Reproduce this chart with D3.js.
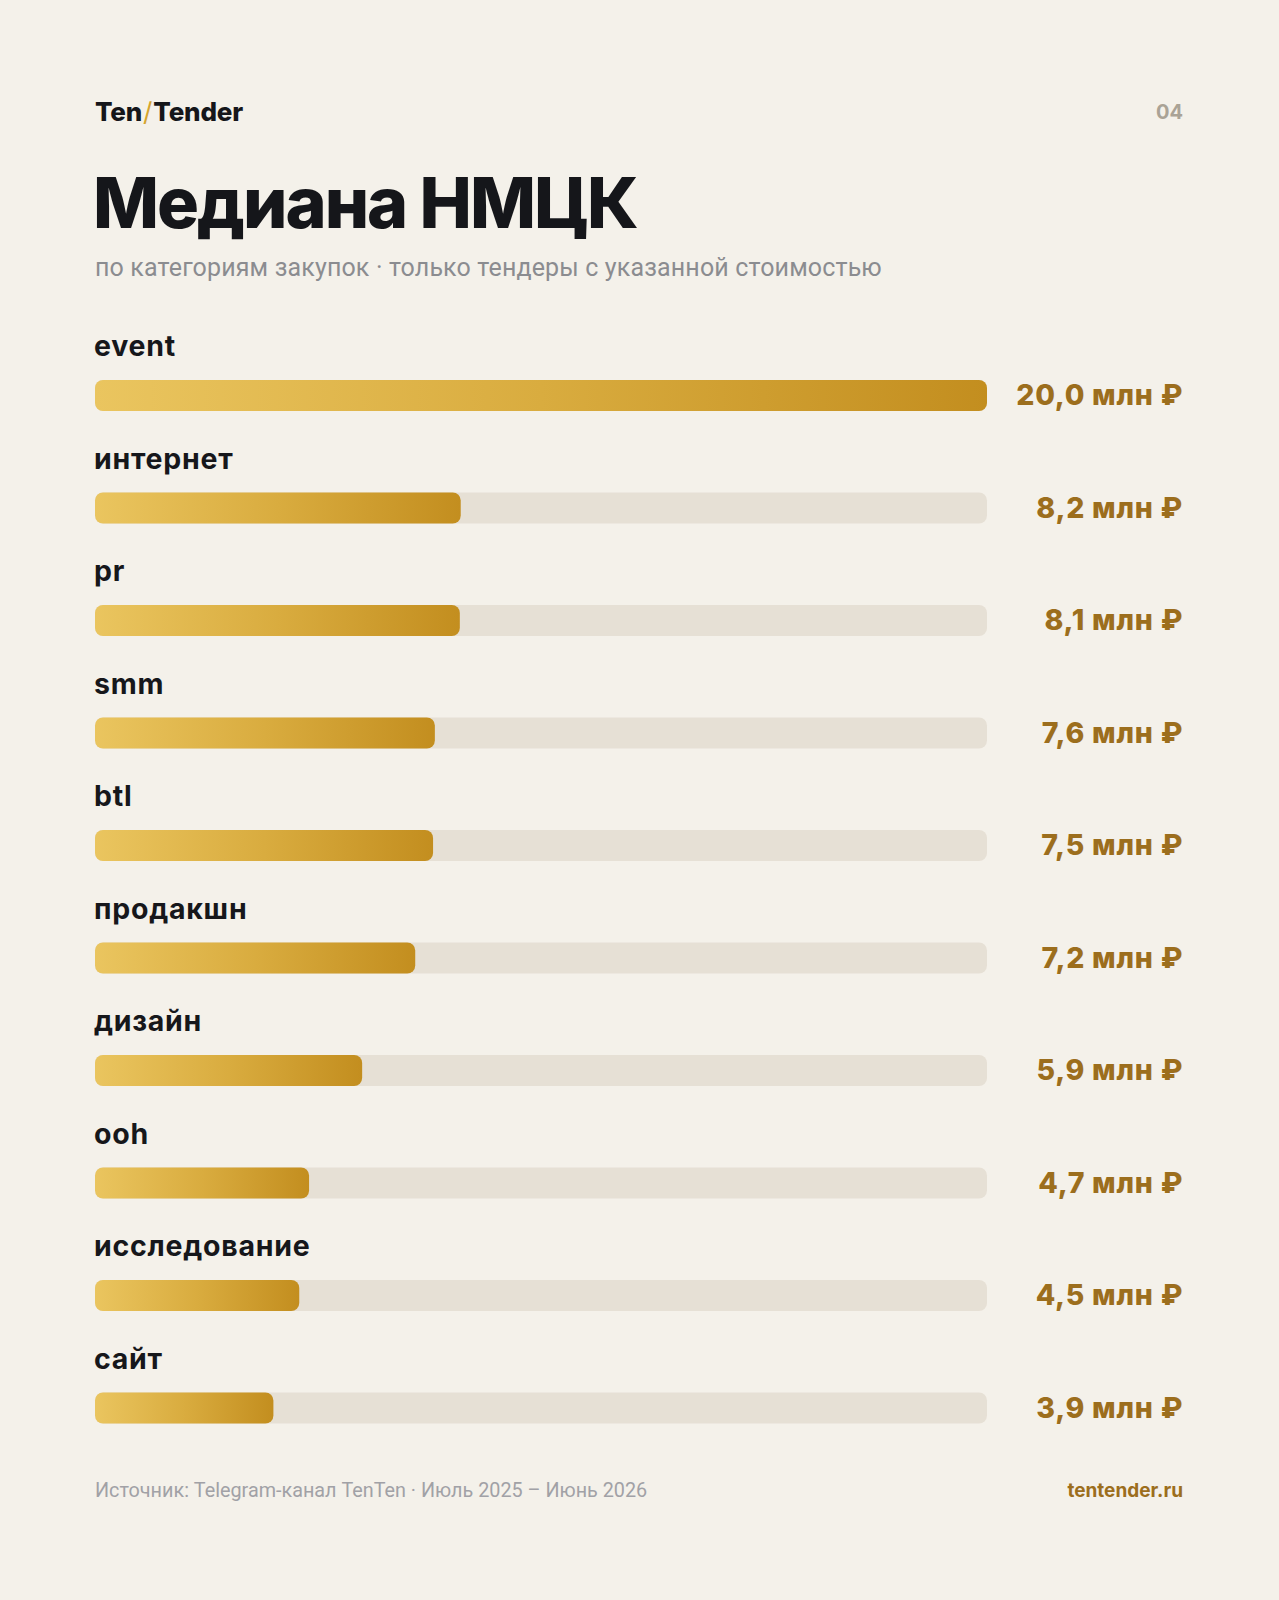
<!DOCTYPE html>
<html>
<head>
<meta charset="utf-8">
<script src="https://cdn.jsdelivr.net/npm/d3@7"></script>
<style>
  html, body { margin: 0; padding: 0; background: #f4f1ea; }
  svg { display: block; }
</style>
</head>
<body>
<script>
// ---- data ----
const categories = ["event", "интернет", "pr", "smm", "btl", "продакшн", "дизайн", "ooh", "исследование", "сайт"];
const medianValues = [20.0, 8.2, 8.18, 7.62, 7.58, 7.18, 5.99, 4.8, 4.58, 4.0]; // млн ₽
const valueLabels = ["20,0 млн ₽", "8,2 млн ₽", "8,1 млн ₽", "7,6 млн ₽", "7,5 млн ₽", "7,2 млн ₽", "5,9 млн ₽", "4,7 млн ₽", "4,5 млн ₽", "3,9 млн ₽"];
const maxValue = 20;

const W = 1279, H = 1600;
const left = 95, barRight = 987, textRight = 1183;
const barH = 31;

const svg = d3.select("body").append("svg").attr("width", W).attr("height", H);
svg.append("rect").attr("width", W).attr("height", H).attr("fill", "#f4f1ea");

const defs = svg.append("defs");

const x = d3.scaleLinear().domain([0, maxValue]).range([left, barRight]);
const y = d3.scaleBand().domain(categories).range([332, 332 + 112.5 * categories.length]);

// header
const logo = svg.append("text").attr("x", left).attr("y", 121)
  .attr("font-family", "Inter").attr("font-weight", 800).attr("font-size", 26)
  .attr("letter-spacing", -0.2).attr("fill", "#15161a");
logo.append("tspan").text("Ten");
logo.append("tspan").attr("fill", "#d5a52e").attr("font-weight", 400).attr("dx", 1).text("/");
logo.append("tspan").attr("dx", 1).text("Tender");

svg.append("text").attr("x", textRight).attr("y", 119).attr("text-anchor", "end")
  .attr("font-family", "Inter").attr("font-weight", 700).attr("font-size", 20)
  .attr("fill", "#aaa396").text("04");

svg.append("text").attr("x", left - 2).attr("y", 228)
  .attr("font-family", "Inter").attr("font-weight", 800).attr("font-size", 70)
  .attr("letter-spacing", -2).attr("fill", "#15161a").text("Медиана НМЦК");

svg.append("text").attr("x", left).attr("y", 276)
  .attr("font-family", "Roboto").attr("font-weight", 400).attr("font-size", 25)
  .attr("letter-spacing", 0.15).attr("fill", "#8b8c90").text("по категориям закупок · только тендеры с указанной стоимостью");

// rows
const rows = svg.append("g").selectAll("g").data(categories).join("g")
  .attr("transform", d => `translate(0,${y(d)})`);

rows.append("text").attr("x", left - 1).attr("y", 24)
  .attr("font-family", "Inter").attr("font-weight", 700).attr("font-size", 28.5)
  .attr("letter-spacing", 0.75).attr("fill", "#16171b").text(d => d);

rows.append("rect").attr("x", left).attr("y", 48).attr("width", barRight - left).attr("height", barH)
  .attr("rx", 8).attr("fill", "#e6e0d5");

categories.forEach((c, i) => {
  const g = defs.append("linearGradient").attr("id", "grad" + i)
    .attr("x1", "0%").attr("x2", "100%").attr("y1", "0%").attr("y2", "0%");
  g.append("stop").attr("offset", "0%").attr("stop-color", "#eac55f");
  g.append("stop").attr("offset", "50%").attr("stop-color", "#d9ac3f");
  g.append("stop").attr("offset", "100%").attr("stop-color", "#c38e1f");
});

rows.append("rect").attr("x", left).attr("y", 48)
  .attr("width", (d, i) => x(medianValues[i]) - left).attr("height", barH)
  .attr("rx", 8).attr("fill", (d, i) => `url(#grad${i})`);

rows.append("text").attr("x", textRight).attr("y", 73).attr("text-anchor", "end")
  .attr("font-family", "Inter").attr("font-weight", 800).attr("font-size", 28.5)
  .attr("letter-spacing", 0.75).attr("fill", "#9c6e1d").text((d, i) => valueLabels[i]);

// footer
svg.append("text").attr("x", left).attr("y", 1497)
  .attr("font-family", "Roboto").attr("font-weight", 400).attr("font-size", 19.8)
  .attr("fill", "#a1a1a6").text("Источник: Telegram-канал TenTen · Июль 2025 – Июнь 2026");

svg.append("text").attr("x", textRight).attr("y", 1497).attr("text-anchor", "end")
  .attr("font-family", "Inter").attr("font-weight", 700).attr("font-size", 19)
  .attr("fill", "#9c6e1d").text("tentender.ru");
</script>
</body>
</html>
